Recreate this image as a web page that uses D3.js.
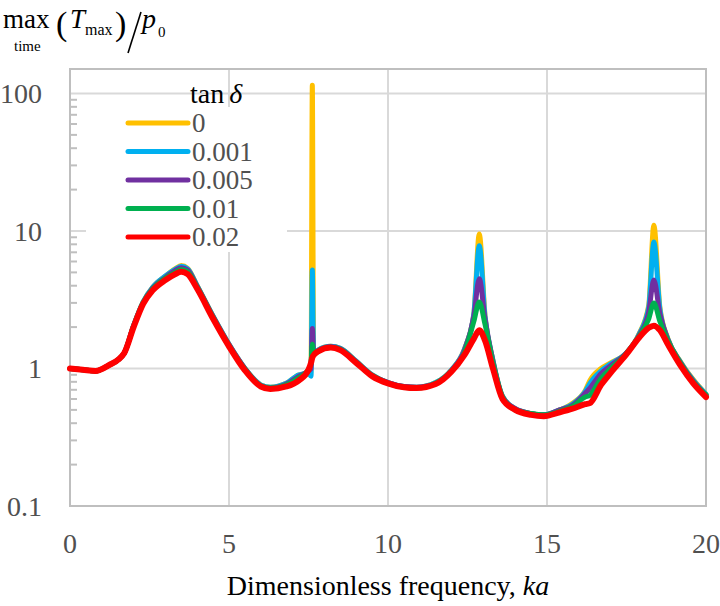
<!DOCTYPE html>
<html><head><meta charset="utf-8">
<script src="https://cdn.jsdelivr.net/npm/d3@7"></script>
<style>body{margin:0;background:#fff}svg{display:block}text{font-family:"Liberation Serif","Times New Roman",serif}</style>
</head><body><svg id="c" width="720" height="606"></svg>
<script>
const ka = [0,0.4,0.8,1.2,1.7,2.0,2.3,2.6,3.0,3.3,3.5,3.7,4.0,4.5,5.0,5.5,6.0,6.3,6.8,7.2,7.5,7.58,7.62,7.66,7.8,8.2,8.5,9.0,9.5,10.0,10.5,10.9,11.5,12.0,12.4,12.7,12.87,13.05,13.3,13.6,14.0,14.5,14.9,15.4,15.8,16.2,16.35,16.7,17.0,17.5,17.9,18.2,18.36,18.55,18.8,19.2,19.6,20.0];
const tan0    = [1.0,0.98,0.96,1.05,1.29,2.05,3.05,3.9,4.7,5.3,5.6,5.35,4.0,2.4,1.5,1.0,0.76,0.73,0.78,0.9,0.92,0.95,115,1.28,1.36,1.45,1.4,1.13,0.9,0.79,0.74,0.73,0.79,0.98,1.38,2.5,9.5,2.45,1.15,0.63,0.51,0.47,0.46,0.5,0.56,0.69,0.82,1.0,1.1,1.3,1.8,2.9,11,2.8,1.65,1.12,0.83,0.65];
const tan001  = [1.0,0.98,0.96,1.05,1.29,2.05,3.05,3.9,4.7,5.25,5.55,5.3,3.98,2.4,1.5,1.0,0.76,0.73,0.78,0.9,0.92,0.88,5.2,1.28,1.36,1.45,1.4,1.13,0.9,0.79,0.74,0.73,0.79,0.98,1.37,2.5,7.8,2.4,1.15,0.63,0.51,0.47,0.46,0.5,0.55,0.68,0.78,0.96,1.08,1.3,1.78,2.8,8.3,2.7,1.64,1.11,0.82,0.65];
const tan005  = [1.0,0.98,0.96,1.05,1.29,2.05,3.0,3.85,4.6,5.15,5.4,5.2,3.95,2.38,1.49,1.0,0.75,0.72,0.77,0.88,0.96,1.0,1.95,1.27,1.35,1.44,1.39,1.12,0.89,0.79,0.74,0.73,0.78,0.97,1.35,2.4,4.5,2.3,1.13,0.62,0.51,0.47,0.46,0.5,0.54,0.66,0.72,0.92,1.05,1.3,1.75,2.6,4.4,2.5,1.62,1.1,0.81,0.64];
const tan01   = [1.0,0.98,0.96,1.05,1.29,2.03,3.0,3.8,4.55,5.0,5.25,5.05,3.9,2.35,1.47,0.99,0.75,0.72,0.76,0.86,0.98,1.1,1.5,1.26,1.34,1.43,1.38,1.11,0.89,0.78,0.73,0.72,0.78,0.96,1.3,2.2,3.05,2.1,1.1,0.62,0.5,0.47,0.46,0.49,0.53,0.62,0.64,0.85,1.0,1.29,1.72,2.3,3.0,2.2,1.6,1.09,0.8,0.64];
const tan02   = [1.0,0.98,0.96,1.05,1.29,2.0,2.95,3.7,4.4,4.85,5.05,4.85,3.8,2.3,1.45,0.97,0.74,0.71,0.74,0.82,0.98,1.1,1.2,1.25,1.33,1.42,1.36,1.1,0.88,0.78,0.73,0.72,0.77,0.95,1.25,1.65,1.9,1.6,1.0,0.6,0.5,0.46,0.45,0.48,0.51,0.55,0.56,0.76,0.93,1.27,1.68,1.98,2.05,1.9,1.5,1.05,0.78,0.62];
const seriesNames = ["0","0.001","0.005","0.01","0.02"];
const seriesColors = ["#FFC000","#00B0F0","#7030A0","#00B050","#FF0000"];
const seriesValues = [tan0,tan001,tan005,tan01,tan02];
const xTicks = [0,5,10,15,20];
const yTicks = [0.1,1,10,100];
const yMax = 150.7;

const svg = d3.select("#c");
const L=70,R=706,T=69,B=506;
const x = d3.scaleLinear().domain([0,20]).range([L,R]);
const y = d3.scaleLog().domain([0.1,yMax]).range([B,T]);
const grid="#d9d9d9", axisC="#bfbfbf", lab="#505050";

svg.append("g").selectAll("line").data(xTicks.filter(d=>d>0&&d<20)).join("line")
  .attr("x1",d=>x(d)).attr("x2",d=>x(d)).attr("y1",T).attr("y2",B)
  .attr("stroke",grid).attr("stroke-width",2);
svg.append("g").selectAll("line").data(yTicks.filter(d=>d>0.1)).join("line")
  .attr("x1",L).attr("x2",R).attr("y1",d=>y(d)).attr("y2",d=>y(d))
  .attr("stroke",grid).attr("stroke-width",2);
svg.append("rect").attr("x",L).attr("y",T).attr("width",R-L).attr("height",B-T)
  .attr("fill","none").attr("stroke",axisC).attr("stroke-width",2);
const minors=[];
[0.1,1,10,100].forEach(b=>{for(let k=2;k<=9;k++){const v=b*k; if(v<yMax) minors.push(v);}});
svg.append("g").selectAll("line").data(minors).join("line")
  .attr("x1",L).attr("x2",L+7).attr("y1",d=>y(d)).attr("y2",d=>y(d))
  .attr("stroke",axisC).attr("stroke-width",2);

svg.append("rect").attr("x",86).attr("y",107).attr("width",201).attr("height",145).attr("fill","#fff");

const line = d3.line().x((d,i)=>x(ka[i])).y(d=>y(d)).curve(d3.curveMonotoneX);
svg.append("g").selectAll("path").data(seriesValues).join("path")
  .attr("d",d=>line(d)).attr("fill","none")
  .attr("stroke",(d,i)=>seriesColors[i]).attr("stroke-width",(d,i)=>i===4?6:5)
  .attr("stroke-linejoin","round").attr("stroke-linecap","round");

svg.append("g").selectAll("text").data(yTicks).join("text")
  .attr("x",42).attr("y",d=>y(d)).attr("dy","0.35em").attr("text-anchor","end")
  .attr("font-size",28).attr("fill",lab).text(d=>String(d));
svg.append("g").selectAll("text").data(xTicks).join("text")
  .attr("x",d=>x(d)).attr("y",553).attr("text-anchor","middle")
  .attr("font-size",28).attr("fill",lab).text(d=>String(d));

const xt = svg.append("text").attr("x",388).attr("y",595).attr("text-anchor","middle").attr("font-size",28).attr("fill","#000");
xt.append("tspan").text("Dimensionless frequency, ");
xt.append("tspan").attr("font-style","italic").text("ka");

const yt = svg.append("g").attr("fill","#000");
yt.append("text").attr("x",3).attr("y",28).attr("font-size",27).text("max");
yt.append("text").attr("x",14).attr("y",51).attr("font-size",15).text("time");
yt.append("text").attr("x",56).attr("y",35).attr("font-size",34).text("(");
yt.append("text").attr("x",70).attr("y",28).attr("font-size",27).attr("font-style","italic").text("T");
yt.append("text").attr("x",85).attr("y",35).attr("font-size",16).text("max");
yt.append("text").attr("x",115).attr("y",35).attr("font-size",34).text(")");
yt.append("line").attr("x1",141).attr("y1",12).attr("x2",128).attr("y2",53).attr("stroke","#000").attr("stroke-width",1.6);
yt.append("text").attr("x",142).attr("y",28).attr("font-size",28).attr("font-style","italic").text("p");
yt.append("text").attr("x",158).attr("y",37).attr("font-size",15).text("0");

const lt = svg.append("text").attr("x",190).attr("y",103).attr("font-size",28).attr("fill","#000");
lt.append("tspan").text("tan");
lt.append("tspan").attr("font-style","italic").attr("dx",5).text("δ");
const lg = svg.append("g").selectAll("g").data(seriesNames).join("g")
  .attr("transform",(d,i)=>`translate(0,${123+i*28.5})`);
lg.append("line").attr("x1",128).attr("x2",188).attr("stroke",(d,i)=>seriesColors[i])
  .attr("stroke-width",5).attr("stroke-linecap","round");
lg.append("text").attr("x",192).attr("y",9).attr("font-size",27).attr("fill",lab).text(d=>d);
</script></body></html>
